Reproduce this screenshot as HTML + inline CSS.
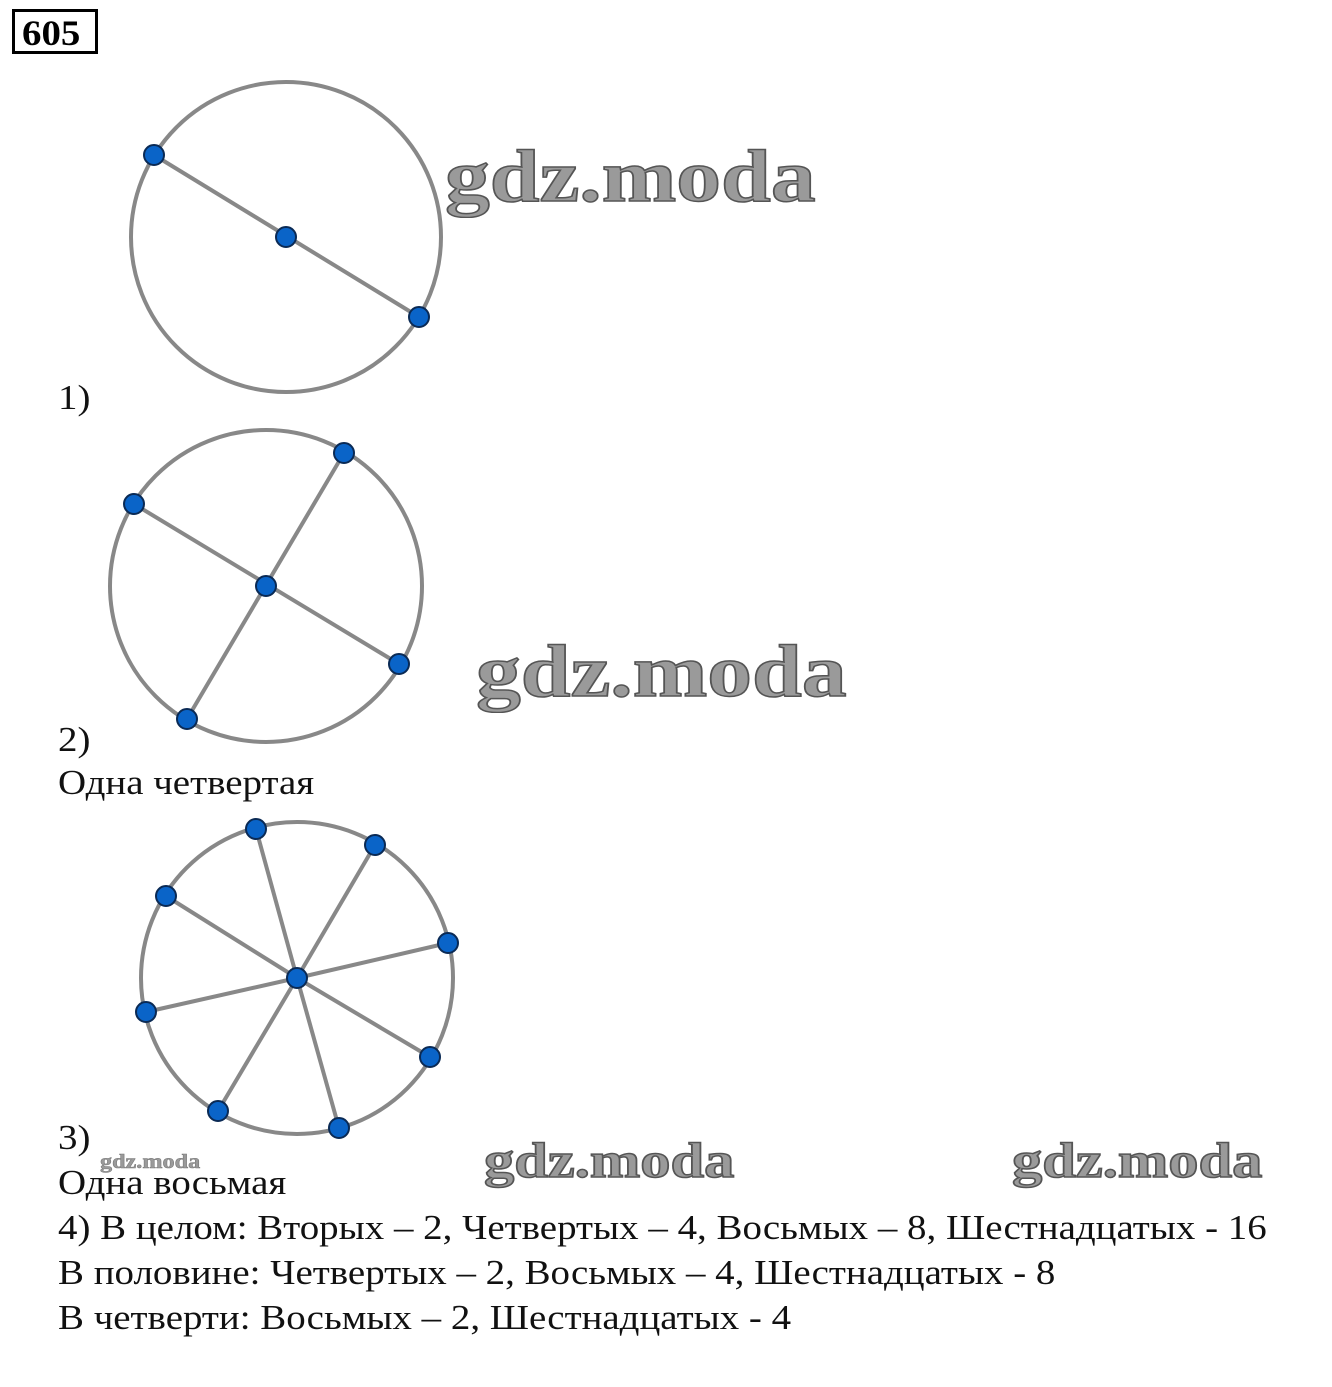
<!DOCTYPE html>
<html><head><meta charset="utf-8"><style>
body{margin:0;width:1332px;height:1387px;background:#fff;position:relative;overflow:hidden;font-family:"Liberation Serif",serif;}
.t{position:absolute;left:58px;font-size:35px;line-height:1;color:#111;white-space:nowrap;transform:scaleX(1.112);transform-origin:0 0;}
.wm{position:absolute;font-family:"Liberation Serif",serif;font-weight:bold;color:#9a9a9a;-webkit-text-stroke:1.5px #555;white-space:nowrap;line-height:1;transform:scaleX(1.21);transform-origin:0 0;}
</style></head><body>
<div style="position:absolute;left:12px;top:9px;width:80px;height:39px;border:3px solid #000;"></div>
<div style="position:absolute;left:22px;top:13px;font-weight:bold;font-size:36px;line-height:40px;transform:scaleX(1.08);transform-origin:0 0;">605</div>
<svg width="1332" height="1387" style="position:absolute;left:0;top:0">
<g fill="none" stroke="#888" stroke-width="4">
<circle cx="286" cy="237" r="155"/>
<line x1="154" y1="155" x2="419" y2="317"/>
<circle cx="266" cy="586" r="156"/>
<line x1="134" y1="504" x2="399" y2="664"/>
<line x1="344" y1="453" x2="187" y2="719"/>
<circle cx="297" cy="978" r="156"/>
<line x1="297" y1="978" x2="256" y2="829"/><line x1="297" y1="978" x2="375" y2="845"/>
<line x1="297" y1="978" x2="166" y2="896"/><line x1="297" y1="978" x2="448" y2="943"/>
<line x1="297" y1="978" x2="146" y2="1012"/><line x1="297" y1="978" x2="430" y2="1057"/>
<line x1="297" y1="978" x2="218" y2="1111"/><line x1="297" y1="978" x2="339" y2="1128"/>
</g>
<g fill="#0a64c8" stroke="#0a2a55" stroke-width="2">
<circle cx="154" cy="155" r="10"/><circle cx="286" cy="237" r="10"/><circle cx="419" cy="317" r="10"/>
<circle cx="134" cy="504" r="10"/><circle cx="344" cy="453" r="10"/><circle cx="266" cy="586" r="10"/><circle cx="399" cy="664" r="10"/><circle cx="187" cy="719" r="10"/>
<circle cx="297" cy="978" r="10"/><circle cx="256" cy="829" r="10"/><circle cx="375" cy="845" r="10"/><circle cx="166" cy="896" r="10"/><circle cx="448" cy="943" r="10"/><circle cx="146" cy="1012" r="10"/><circle cx="430" cy="1057" r="10"/><circle cx="218" cy="1111" r="10"/><circle cx="339" cy="1128" r="10"/>
</g>
</svg>
<div class="wm" style="left:445px;top:140px;font-size:74px;">gdz.moda</div>
<div class="wm" style="left:476px;top:635px;font-size:74px;">gdz.moda</div>
<div class="wm" style="left:484px;top:1135px;font-size:50px;">gdz.moda</div>
<div class="wm" style="left:1012px;top:1135px;font-size:50px;">gdz.moda</div>
<div class="wm" style="left:100px;top:1152px;font-size:20px;-webkit-text-stroke:0.5px #777;">gdz.moda</div>
<div class="t" style="top:380px">1)</div>
<div class="t" style="top:722px">2)</div>
<div class="t" style="top:765px">Одна четвертая</div>
<div class="t" style="top:1120px">3)</div>
<div class="t" style="top:1165px">Одна восьмая</div>
<div class="t" style="top:1210px">4) В целом: Вторых – 2, Четвертых – 4, Восьмых – 8, Шестнадцатых - 16</div>
<div class="t" style="top:1255px">В половине: Четвертых – 2, Восьмых – 4, Шестнадцатых - 8</div>
<div class="t" style="top:1300px">В четверти: Восьмых – 2, Шестнадцатых - 4</div>
</body></html>
